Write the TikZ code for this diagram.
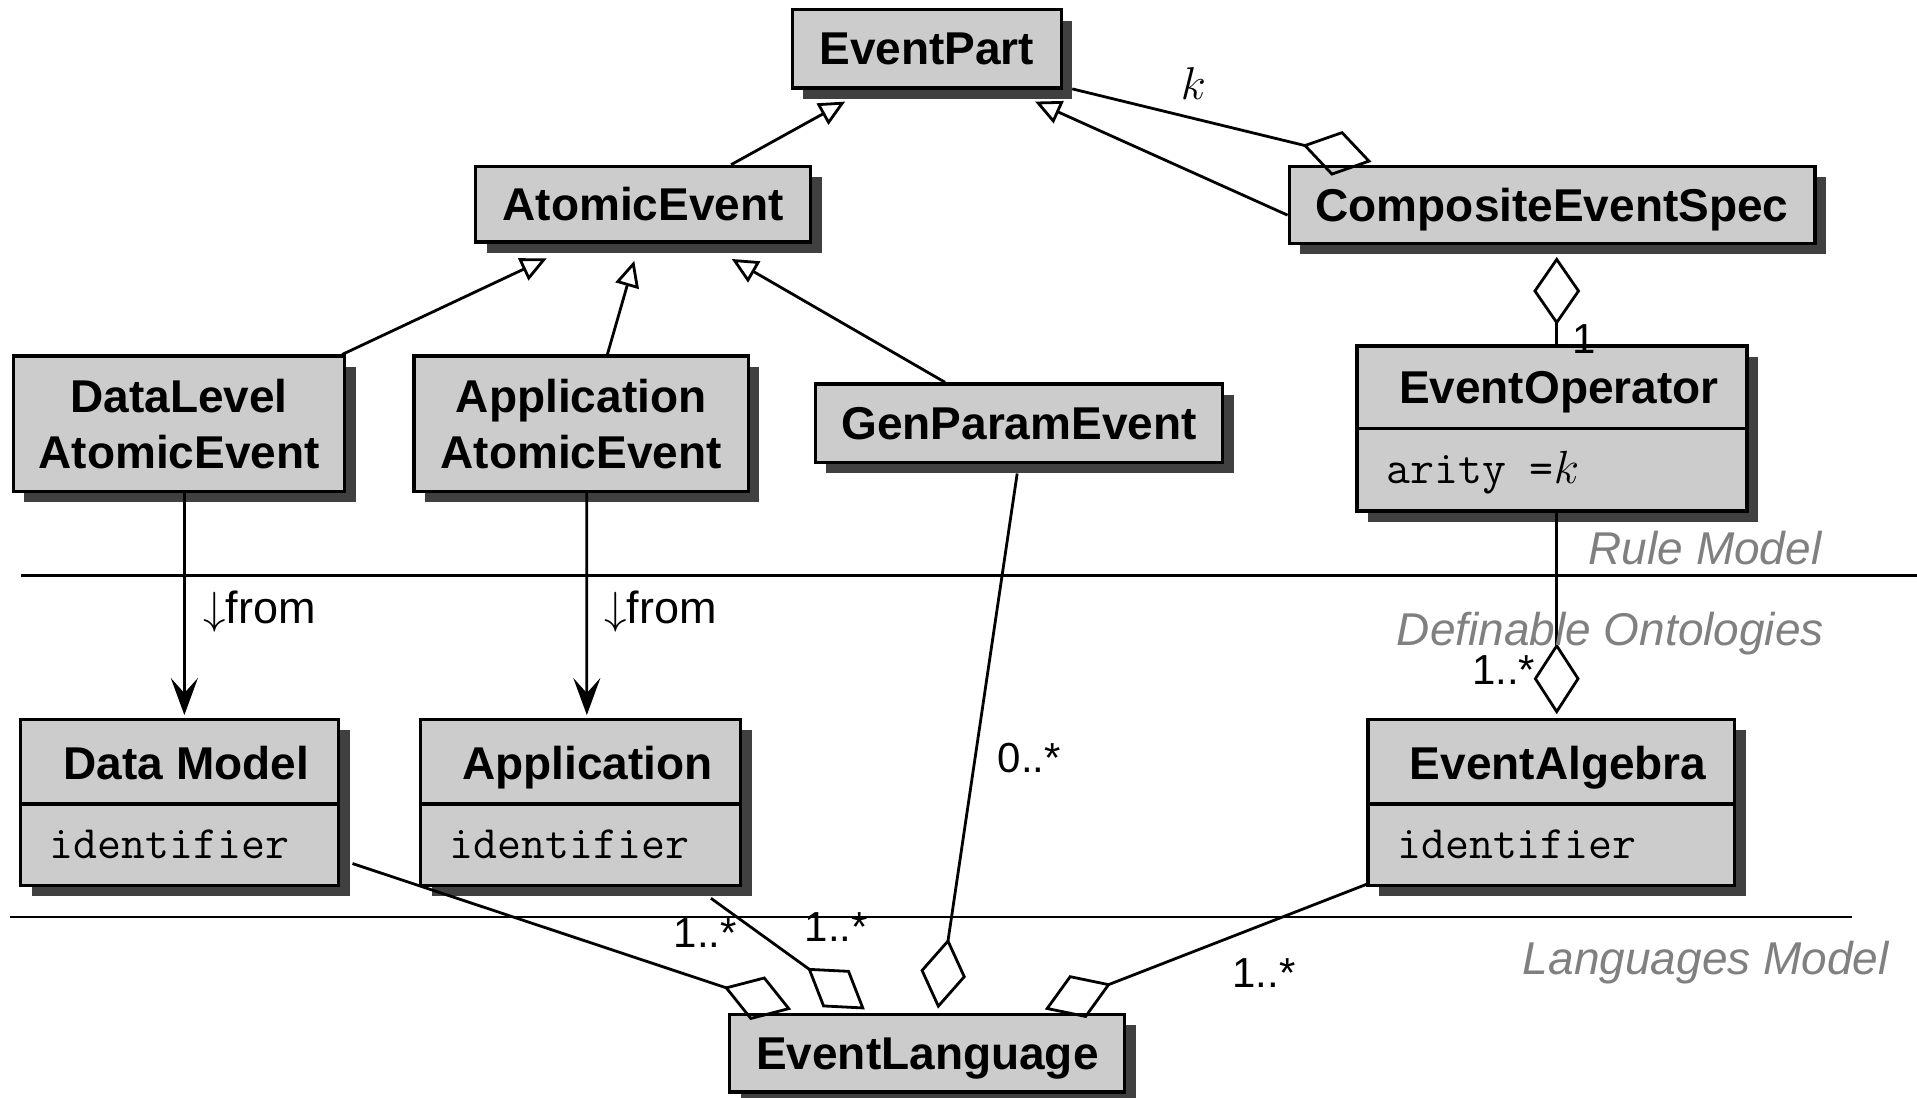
\RequirePackage{fix-cm}
\documentclass[tikz,border=0pt]{standalone}
\usepackage{fontspec}
\setmainfont{Liberation Sans}
\usetikzlibrary{arrows.meta,calc,shadows}
\definecolor{boxfill}{HTML}{CCCCCC}
\definecolor{shadowc}{HTML}{404040}
\definecolor{lblgray}{HTML}{808080}
\begin{document}
\begin{tikzpicture}[x=1.2226pt,y=-1.2226pt,
  umlbox/.style={draw=black,line width=3.2pt,fill=boxfill,inner sep=0pt,
    drop shadow={shadow xshift=11pt,shadow yshift=-11pt,opacity=1,fill=shadowc}},
  umltitle/.style={font=\fontsize{46}{56}\selectfont\bfseries,align=center,text depth=0pt},
  umlattr/.style={font=\fontsize{46.5}{56}\selectfont\ttfamily,inner sep=0pt,anchor=base west},
  multlbl/.style={font=\fontsize{42}{50}\selectfont,inner sep=0pt},
  fromlbl/.style={font=\fontsize{45}{54}\selectfont,inner sep=0pt,anchor=base west},
  layerlbl/.style={font=\fontsize{46}{56}\selectfont\itshape,text=lblgray,inner sep=0pt,anchor=base east},
  conn/.style={line width=2.8pt},
  gen/.style={conn,-{Triangle[open,length=26pt,width=24pt]}},
  aggend/.style={conn,-{Diamond[open,length=71pt,width=46pt]}},
  aggstart/.style={conn,{Diamond[open,length=68pt,width=47pt]}-},
  dep/.style={conn,-{Stealth[length=37pt,width=27pt,inset=15pt]}},
  sepline/.style={line width=2.8pt}]
\useasboundingbox (0,0) rectangle (1568,898);

% separators
\draw[sepline] (17,471) -- (1568,471);
\draw[sepline] (8,750) -- (1515,750);

% simple boxes
\node[umlbox,umltitle,minimum width=269pt,minimum height=78.2pt] (ep) at (758,40) {EventPart};
\node[umlbox,umltitle,minimum width=335pt,minimum height=75.8pt] (ae) at (526,167) {AtomicEvent};
\node[umlbox,umltitle,minimum width=525.7pt,minimum height=77pt] (ces) at (1269.5,167.5) {CompositeEventSpec};
\node[umlbox,umltitle,minimum width=331.3pt,minimum height=135.1pt] (dl) at (146.5,346.5) {DataLevel\\AtomicEvent};
\node[umlbox,umltitle,minimum width=334.3pt,minimum height=135.1pt] (aa) at (475.3,346.5) {Application\\AtomicEvent};
\node[umlbox,umltitle,minimum width=407.1pt,minimum height=78.2pt] (gp) at (833.5,346) {GenParamEvent};
\node[umlbox,umltitle,minimum width=394.9pt,minimum height=77.6pt] (el) at (758.5,861.5) {EventLanguage};

% compartment boxes
\node[umlbox,minimum width=390pt,minimum height=165.1pt] (eo) at (1269.5,350.5) {};
\draw[line width=3.2pt] ($(eo.north west)+(0,69)$) -- ($(eo.north east)+(0,69)$);
\node[umltitle] (eot) at ($(eo.north)+(5.5,35.5)$) {EventOperator};
\node[umlattr] (eoa) at ($(eo.north west)+(25,113.7)$) {arity =$k$};

\node[umlbox,minimum width=317.9pt,minimum height=165.7pt] (dm) at (147,656.25) {};
\draw[line width=3.2pt] ($(dm.north west)+(0,70.5)$) -- ($(dm.north east)+(0,70.5)$);
\node[umltitle] (dmt) at ($(dm.north)+(5.5,36.5)$) {Data Model};
\node[umlattr] (dma) at ($(dm.north west)+(25,114.9)$) {identifier};

\node[umlbox,minimum width=320.3pt,minimum height=165.7pt] (ap) at (475,656.25) {};
\draw[line width=3.2pt] ($(ap.north west)+(0,70.5)$) -- ($(ap.north east)+(0,70.5)$);
\node[umltitle] (apt) at ($(ap.north)+(5.5,36.5)$) {Application};
\node[umlattr] (apa) at ($(ap.north west)+(25,114.9)$) {identifier};

\node[umlbox,minimum width=366.8pt,minimum height=165.7pt] (ea) at (1269,656.25) {};
\draw[line width=3.2pt] ($(ea.north west)+(0,70.5)$) -- ($(ea.north east)+(0,70.5)$);
\node[umltitle] (eat) at ($(ea.north)+(5.5,36.5)$) {EventAlgebra};
\node[umlattr] (eaa) at ($(ea.north west)+(25,114.9)$) {identifier};

% generalizations
\draw[gen] ($(ae.north)+(72,0)$) -- ($(ep.south)+(-66.7,9.8)$);
\draw[gen] ($(ces.west)+(0,8.5)$) -- ($(ep.south)+(88.6,9.8)$);
\draw[gen] ($(dl.north east)+(-3.4,0)$) -- ($(ae.south west)+(59.5,12)$);
\draw[gen] ($(aa.north)+(21.5,0)$) -- ($(ae.south)+(-7.2,14)$);
\draw[gen] ($(gp.north)+(-60.5,0)$) -- ($(ae.south)+(72.5,12.5)$);

% aggregations
\draw[aggend] ($(ep.south east)+(7.7,-0.6)$) -- ($(ces.north west)+(68.6,-2.4)$);
\draw[aggstart] ($(ces.south)+(3.8,9.9)$) -- ($(eo.north)+(3.8,0)$);
\draw[aggend] ($(eo.south)+(3.8,0)$) -- ($(ea.north)+(4.3,-3)$);
\draw[aggend] ($(gp.south)+(-1.5,8)$) -- ($(el.north)+(8.7,-3.4)$);
\draw[aggend] ($(dm.south east)+(10,-19)$) -- ($(el.north west)+(51.5,-2.8)$);
\draw[aggend] ($(ap.south east)+(-25.8,9.4)$) -- ($(el.north west)+(111.7,-2.8)$);
\draw[aggend] ($(ea.south west)+(0,-2)$) -- ($(el.north west)+(258.9,-2.8)$);

% dependencies
\draw[dep] ($(dl.south)+(4.3,0)$) -- ($(dm.north)+(3.8,-2.3)$);
\draw[dep] ($(aa.south)+(4.7,0)$) -- ($(ap.north)+(5,-2.3)$);

% labels
\node[multlbl,font=\fontsize{46}{56}\selectfont] (lk) at (976,68) {$k$};
\node[multlbl] (l1) at (1296,277) {1};
\node[multlbl] (m4) at (1230,548) {1..*};
\node[multlbl] (m0) at (842,620) {0..*};
\node[multlbl] (m1) at (577,763) {1..*};
\node[multlbl] (m2) at (684,758) {1..*};
\node[multlbl] (m3) at (1034,796) {1..*};
\node[fromlbl] (f1) at (166,510) {$\downarrow$from};
\node[fromlbl] (f2) at (494,510) {$\downarrow$from};

\node[layerlbl] (rm) at (1490,462) {Rule Model};
\node[layerlbl] (dom) at (1492,527.6) {Definable Ontologies};
\node[layerlbl] (lm) at (1545,797) {Languages Model};
\end{tikzpicture}
\end{document}
